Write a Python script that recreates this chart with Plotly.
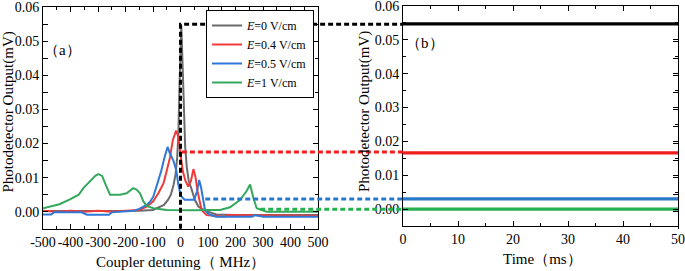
import plotly.graph_objects as go

# ---------------- data ----------------
# (a) coupler detuning spectra, MHz vs mV
x_e0 = [-500, -300, -150, -100, -80, -60, -45, -35, -25, -18, -12, -8, -4, 3, 8, 12, 17, 23, 30, 41, 52, 65, 80, 100, 130, 200, 300, 400, 500]
y_e0 = [0.0002, 0.0002, 0.0003, 0.0005, 0.0012, 0.002, 0.0035, 0.005, 0.008, 0.011, 0.016, 0.022, 0.036, 0.0545, 0.042, 0.028, 0.019, 0.013, 0.009, 0.0064, 0.0035, 0.0015, 0.0007, 0.0, -0.0008, -0.001, -0.001, -0.0008, -0.001]

x_e04 = [-500, -450, -400, -350, -300, -250, -200, -150, -123, -100, -80, -62, -50, -38, -28, -16, -8, 0, 8, 18, 28, 38, 47, 55, 62, 70, 77, 95, 120, 160, 170, 200, 300, 400, 500]
y_e04 = [0.0003, 0.0, 0.0003, 0.0, 0.0003, 0.0, 0.0003, 0.0005, 0.0015, 0.003, 0.0055, 0.0083, 0.012, 0.016, 0.021, 0.0238, 0.022, 0.017, 0.012, 0.009, 0.0074, 0.009, 0.0125, 0.01, 0.006, 0.003, 0.0005, -0.001, -0.0012, -0.0015, -0.001, -0.001, -0.0012, -0.0012, -0.0012]

x_e05 = [-500, -470, -460, -400, -360, -340, -300, -260, -250, -200, -170, -150, -135, -123, -110, -99, -85, -70, -58, -47, -38, -26, -15, -8, 0, 4, 15, 35, 50, 60, 68, 75, 82, 89, 100, 110, 130, 200, 260, 270, 300, 400, 500]
y_e05 = [-0.0008, -0.0008, -0.0002, -0.0002, -0.0002, -0.0009, -0.0009, -0.0009, -0.0002, 0.0, 0.0003, 0.0008, 0.0015, 0.002, 0.003, 0.0044, 0.008, 0.012, 0.016, 0.019, 0.017, 0.015, 0.012, 0.008, 0.005, 0.0044, 0.0035, 0.0034, 0.0035, 0.006, 0.0093, 0.007, 0.003, 0.0005, -0.0005, -0.001, -0.0015, -0.0015, -0.0015, -0.001, -0.0015, -0.0015, -0.0015]

x_e1 = [-500, -470, -440, -402, -370, -353, -330, -310, -299, -285, -270, -256, -220, -196, -172, -160, -147, -135, -123, -99, -50, 0, 50, 100, 144, 180, 216, 240, 253, 265, 277, 313, 400, 450, 500]
y_e1 = [0.001, 0.0015, 0.0022, 0.0036, 0.005, 0.0069, 0.0088, 0.0105, 0.011, 0.0105, 0.0075, 0.005, 0.005, 0.0054, 0.0069, 0.0065, 0.0054, 0.003, 0.0017, 0.001, 0.0005, 0.0004, 0.0004, 0.0005, 0.0005, 0.0013, 0.0034, 0.006, 0.008, 0.004, 0.001, 0.0, 0.0, -0.0002, 0.0]

labels = ["<i>E</i>=0 V/cm", "<i>E</i>=0.4 V/cm", "<i>E</i>=0.5 V/cm", "<i>E</i>=1 V/cm"]
colors_a = ["#6b6b6b", "#f03a3a", "#2f78d6", "#35a85e"]
colors_b = ["#000000", "#f01e1e", "#2a78c8", "#28b050"]

# dashed connectors: start detuning (MHz) and level (mV) in panel (a)
dash_start = [0, 5, 90, 290]
dash_level = [0.055, 0.0175, 0.0037, 0.0007]

# (b) time traces
t_b = [0, 50]
levels_b = [0.0547, 0.0166, 0.003, 0.0]

xt_a = list(range(-500, 501, 100))
xt_a_text = [str(v) for v in xt_a]
yt = [0.0, 0.01, 0.02, 0.03, 0.04, 0.05, 0.06]
yt_text = ["0.00", "0.01", "0.02", "0.03", "0.04", "0.05", "0.06"]
xt_b = [0, 10, 20, 30, 40, 50]

# ---------------- layout geometry ----------------
W, H = 685, 271
LX = [43 / W, 318 / W]
RX = [403 / W, 678 / W]
LY = [1 - 228.7 / H, 1 - 7.3 / H]
RY = [1 - 226 / H, 1 - 6 / H]
XA = [-500, 500]
# overlay axis continues panel (a)'s MHz scale across to panel (b)
x3_end = XA[0] + (RX[1] - LX[0]) / (LX[1] - LX[0]) * (XA[1] - XA[0])
x_join = XA[0] + (RX[0] - LX[0]) / (LX[1] - LX[0]) * (XA[1] - XA[0])

SERIF = "Liberation Serif, Times New Roman, serif"

fig = go.Figure()

for xs, ys, lab, c in zip([x_e0, x_e04, x_e05, x_e1], [y_e0, y_e04, y_e05, y_e1], labels, colors_a):
    fig.add_trace(go.Scatter(x=xs, y=ys, mode="lines", name=lab,
                             line=dict(color=c, width=2),
                             xaxis="x", yaxis="y"))

# dashed connector lines
dash_cols = ["#000000", "#f01e1e", "#2a78c8", "#28b050"]
for i, (xs0, lv, c) in enumerate(zip(dash_start, dash_level, dash_cols)):
    if i == 0:
        xs = [xs0, xs0, x_join]
        ys = [-0.005, lv, lv]
    else:
        xs = [xs0, x_join]
        ys = [lv, lv]
    fig.add_trace(go.Scatter(x=xs, y=ys, mode="lines", showlegend=False,
                             line=dict(color=c, width=3, dash="5px,3px"),
                             xaxis="x3", yaxis="y", hoverinfo="skip"))

for lv, c in zip(levels_b, colors_b):
    fig.add_trace(go.Scatter(x=t_b, y=[lv, lv], mode="lines", showlegend=False,
                             line=dict(color=c, width=3.2), xaxis="x2", yaxis="y2"))

axis_common = dict(showline=True, linecolor="black", linewidth=1, mirror="allticks",
                   ticks="inside", ticklen=5, tickwidth=1, tickcolor="black",
                   showgrid=False, zeroline=False, tickangle=0,
                   ticklabeloverflow="allow",
                   tickfont=dict(family=SERIF, size=14, color="black"),
                   automargin=False)

fig.update_layout(
    width=W, height=H,
    margin=dict(l=0, r=0, t=0, b=0),
    paper_bgcolor="white", plot_bgcolor="rgba(0,0,0,0)",
    font=dict(family=SERIF, size=14, color="black"),
    xaxis=dict(domain=LX, range=XA, anchor="y", tickvals=xt_a, ticktext=xt_a_text,
               minor=dict(ticks="inside", dtick=50, ticklen=3, tickcolor="black"), **axis_common),
    yaxis=dict(domain=LY, range=[-0.005, 0.06], anchor="x", tickvals=yt, ticktext=yt_text,
               minor=dict(ticks="inside", dtick=0.005, ticklen=3, tickcolor="black"), **axis_common),
    xaxis2=dict(domain=RX, range=[0, 50], anchor="y2", tickvals=xt_b,
                minor=dict(ticks="inside", dtick=5, ticklen=3, tickcolor="black"), **axis_common),
    yaxis2=dict(domain=RY, range=[-0.005, 0.06], anchor="x2", tickvals=yt, ticktext=yt_text,
                minor=dict(ticks="inside", dtick=0.005, ticklen=3, tickcolor="black"), **axis_common),
    xaxis3=dict(domain=[LX[0], RX[1]], range=[XA[0], x3_end], anchor="y", visible=False),
    legend=dict(x=206 / W, y=1 - 10 / H, xanchor="left", yanchor="top",
                bgcolor="white", bordercolor="black", borderwidth=1,
                font=dict(family=SERIF, size=12, color="black"),
                tracegroupgap=0, itemwidth=30),
    showlegend=True,
)

ann = [
    dict(text="（a）", x=62 / W, y=1 - 50 / H),
    dict(text="（b）", x=425 / W, y=1 - 43 / H),
    dict(text="Coupler detuning（ MHz）", x=180 / W, y=1 - 262 / H),
    dict(text="Time（ms）", x=542 / W, y=1 - 259 / H),
    dict(text="Photodetector Output(mV)", x=8.5 / W, y=1 - 112 / H, textangle=-90),
    dict(text="Photodetector Output(mV)", x=365 / W, y=1 - 112 / H, textangle=-90),
]
for a in ann:
    fig.add_annotation(xref="paper", yref="paper", xanchor="center", yanchor="middle",
                       showarrow=False, font=dict(family=SERIF, size=15, color="black"), **a)

fig.write_html("out.html", config={"displayModeBar": False},
               post_script="document.body.style.margin='0';document.body.style.overflow='hidden';")
